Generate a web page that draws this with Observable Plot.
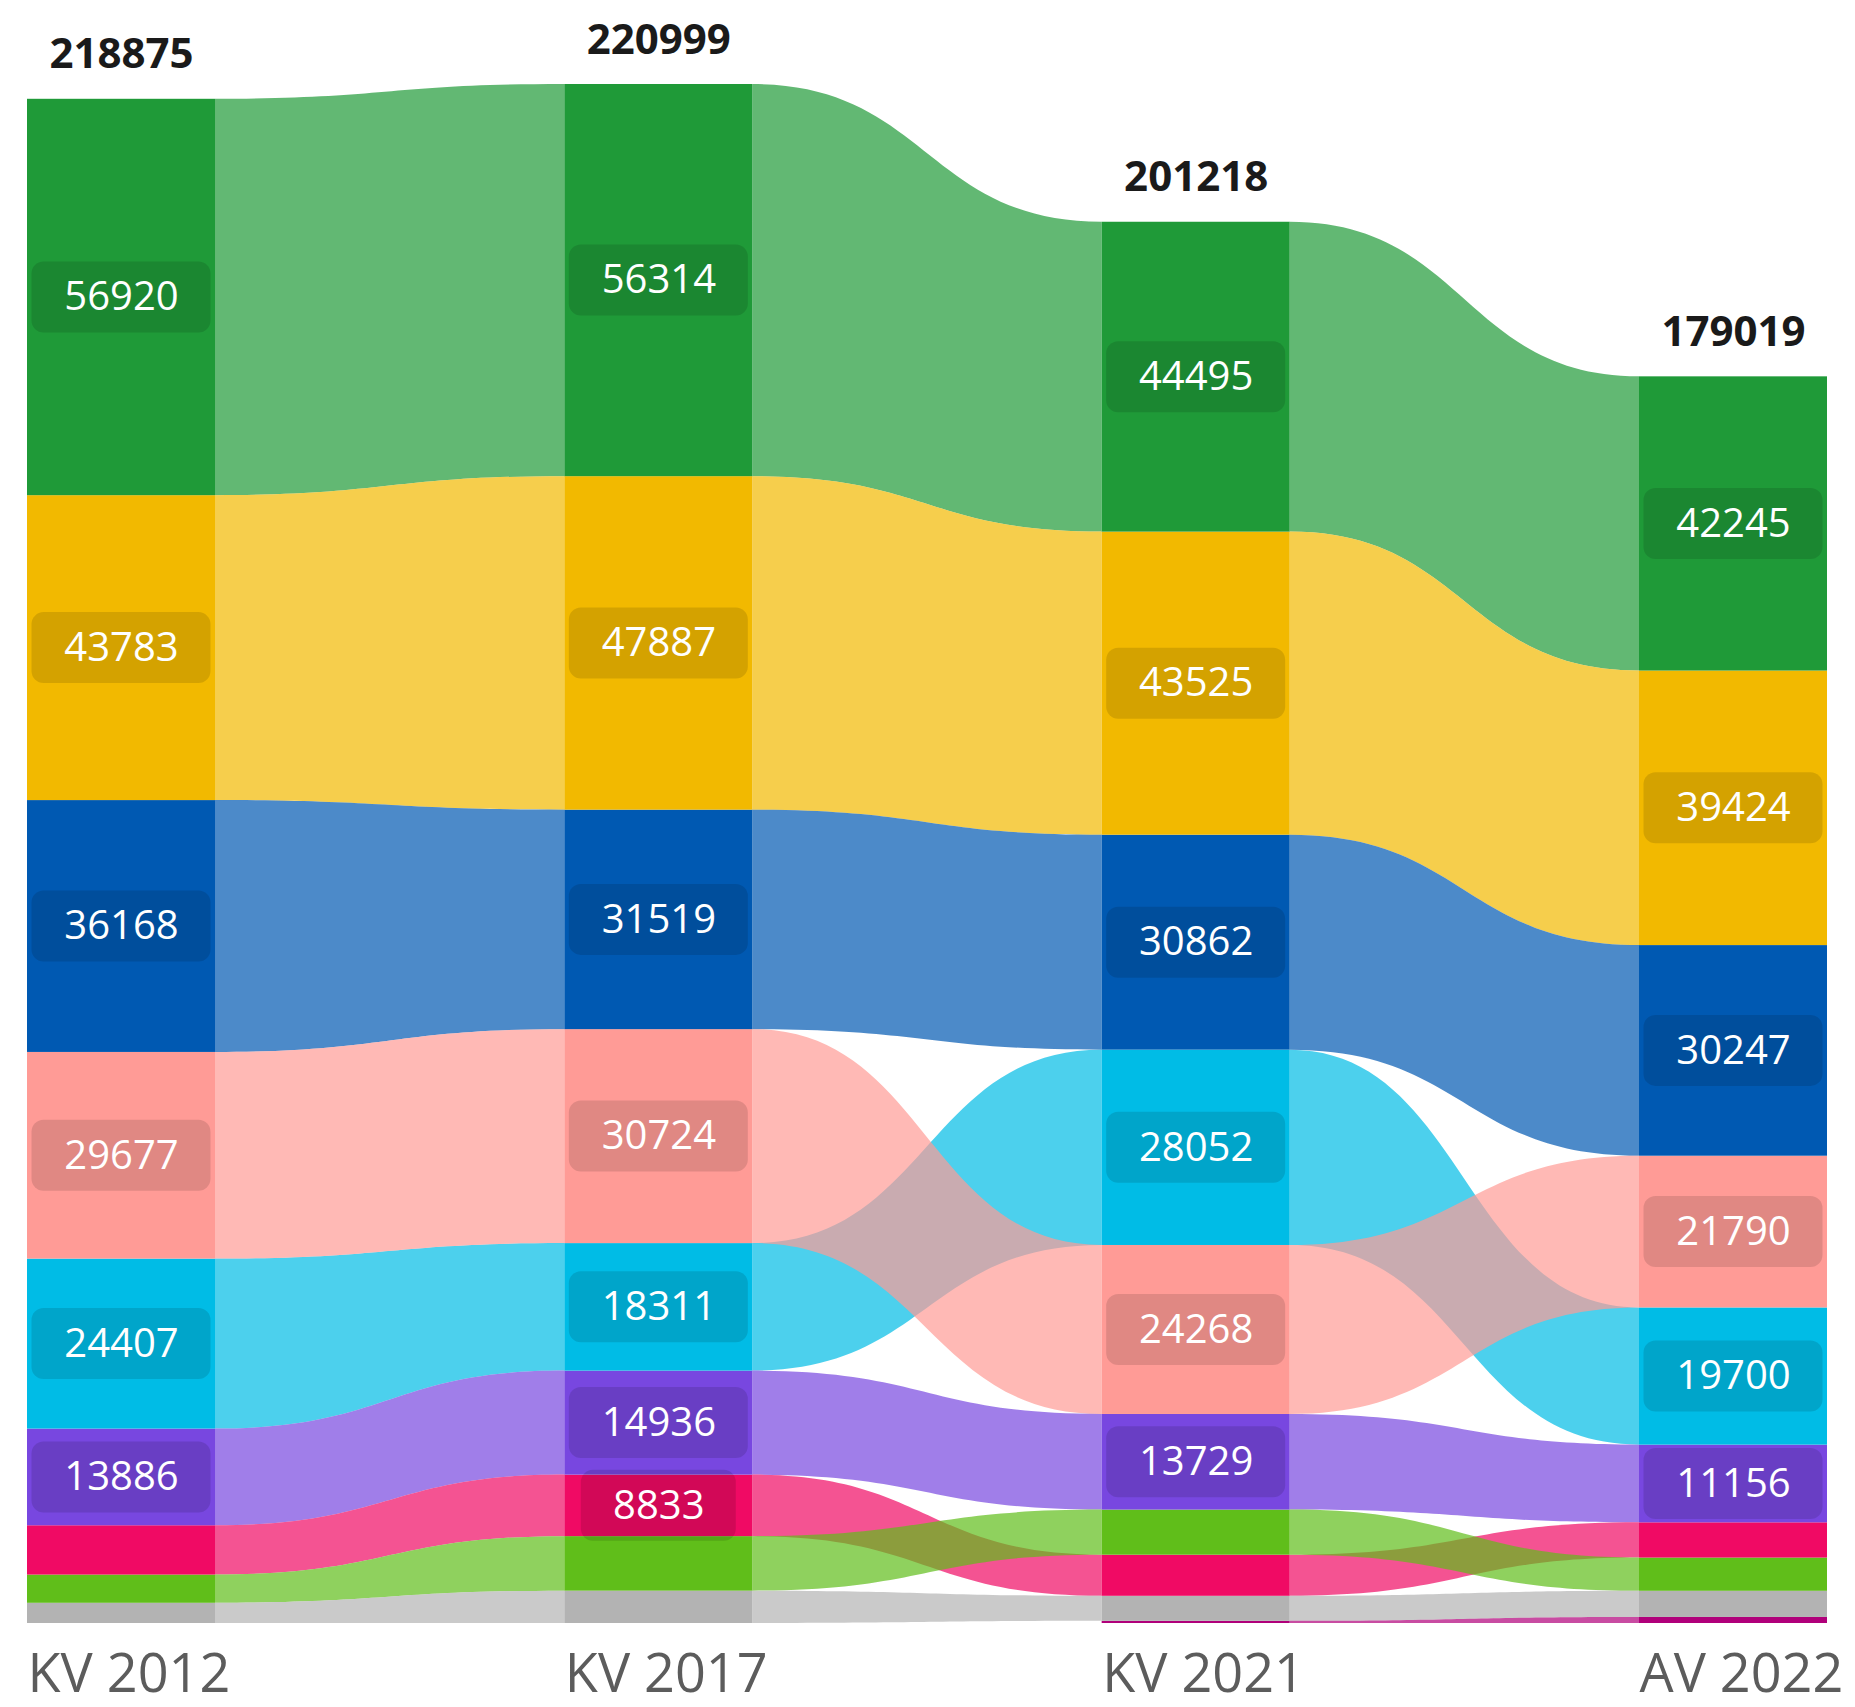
<!DOCTYPE html>
<html><head><meta charset="utf-8">
<script src="https://cdn.jsdelivr.net/npm/d3@7"></script>
<script src="https://cdn.jsdelivr.net/npm/@observablehq/plot@0.6"></script>
<style>html,body{margin:0;padding:0;background:#fff;overflow:hidden;} #chart svg{display:block}</style>
</head><body><div id="chart"></div>
<script>
// ---- data ----
const columns = ["KV 2012", "KV 2017", "KV 2021", "AV 2022"];
const totals = [218875, 220999, 201218, 179019];
const parties = ["P1", "P2", "P3", "P4", "P5", "P6", "P7", "P8", "P9", "P10"];
const partyColors = ["#1f9a38", "#f2b900", "#0059b2", "#00bce6", "#ff9b96", "#7847e0", "#f00a64", "#60be1a", "#b3b3b3", "#b0007a"];
const P1  = [56920, 56314, 44495, 42245];
const P2  = [43783, 47887, 43525, 39424];
const P3  = [36168, 31519, 30862, 30247];
const P4  = [24407, 18311, 28052, 19700];
const P5  = [29677, 30724, 24268, 21790];
const P6  = [13886, 14936, 13729, 11156];
const P7  = [7080, 8833, 5900, 5060];
const P8  = [4050, 7830, 6480, 4770];
const P9  = [2904, 4645, 3600, 3760];
const P10 = [null, null, 307, 867];
const labelMin = 8000;

const valuesByParty = {P1, P2, P3, P4, P5, P6, P7, P8, P9, P10};

// ---- stacking (largest on top) ----
const segments = [];
columns.forEach((col, c) => {
  const present = parties.filter(p => valuesByParty[p][c] != null)
    .sort((a, b) => valuesByParty[a][c] - valuesByParty[b][c]);
  let base = 0;
  for (const p of present) {
    const v = valuesByParty[p][c];
    segments.push({party: p, c, value: v, y1: base, y2: base + v});
    base += v;
  }
});
const seg = (p, c) => segments.find(s => s.party === p && s.c === c);

const hw = 0.17494; // half bar width in column units
const ribbons = [];
for (const p of parties) {
  for (let c = 0; c < columns.length - 1; c++) {
    const a = seg(p, c), b = seg(p, c + 1);
    if (!a || !b) continue;
    ribbons.push({id: p + "_" + c, party: p, x: c + hw, y1: a.y1, y2: a.y2});
    ribbons.push({id: p + "_" + c, party: p, x: c + 1 - hw, y1: b.y1, y2: b.y2});
  }
}
const labeled = segments.filter(s => s.value >= labelMin);
const labels5 = labeled.filter(s => String(s.value).length >= 5);
const labels4 = labeled.filter(s => String(s.value).length < 5);
const colData = columns.map((name, c) => ({name, c, total: totals[c]}));
const mid = d => (d.y1 + d.y2) / 2;

const boxOpts = {x1: d => d.c - hw, x2: d => d.c + hw, y1: mid, y2: mid,
  fill: "#000", fillOpacity: 0.12, rx: 12, insetTop: -35.5, insetBottom: -35.5};

const chart = Plot.plot({
  width: 1855, height: 1707,
  marginTop: 84, marginBottom: 84, marginLeft: 27, marginRight: 28,
  x: {domain: [-hw, columns.length - 1 + hw], axis: null},
  y: {domain: [0, d3.max(totals)], axis: null},
  color: {type: "ordinal", domain: parties, range: partyColors},
  style: {fontFamily: "'Open Sans', sans-serif", background: "#fff"},
  marks: [
    Plot.areaY(ribbons, {x: "x", y1: "y1", y2: "y2", z: "id", fill: "party", fillOpacity: 0.7, curve: "bump-x"}),
    Plot.rect(segments, {x1: d => d.c - hw, x2: d => d.c + hw, y1: "y1", y2: "y2", fill: "party"}),
    Plot.rect(labels5, {...boxOpts, insetLeft: 4.5, insetRight: 4.5}),
    Plot.rect(labels4, {...boxOpts, insetLeft: 16.5, insetRight: 16.5}),
    Plot.text(labeled, {x: "c", y: mid, text: d => String(d.value), fill: "#fff", fontSize: 40}),
    Plot.text(colData, {x: "c", y: "total", text: d => String(d.total), fontWeight: "bold", fontSize: 42,
      fill: "#1a1a1a", lineAnchor: "bottom", dy: -31}),
    Plot.text(colData, {x: d => d.c - hw, y: 0, text: "name", textAnchor: "start", lineAnchor: "bottom",
      dy: 68, fontSize: 54, fill: "#5c5c5c"})
  ]
});
document.getElementById("chart").appendChild(chart);
</script>
</body></html>
